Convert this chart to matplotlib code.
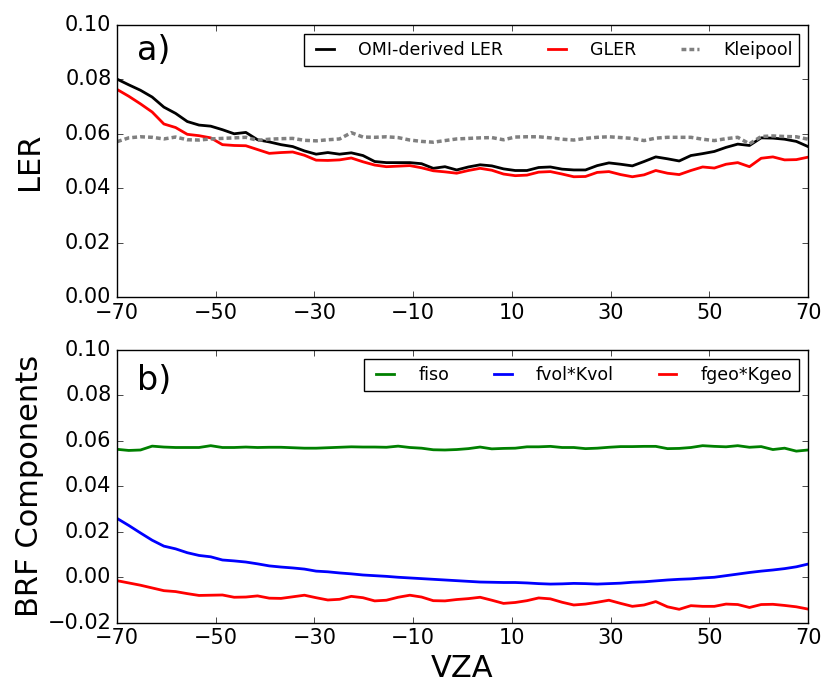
import numpy as np
import matplotlib
matplotlib.use("Agg")
import matplotlib.pyplot as plt
from matplotlib.ticker import FuncFormatter

plt.style.use("classic")

# VZA grid (60 OMI rows)
vza = np.linspace(-70, 70, 60)

# ---- panel a) ----
omi_ler = [0.0801, 0.0780, 0.0760, 0.0735, 0.0698, 0.0675, 0.0645, 0.0632, 0.0628, 0.0615,
           0.0600, 0.0605, 0.0578, 0.0570, 0.0560, 0.0553, 0.0537, 0.0525, 0.0531, 0.0525,
           0.0530, 0.0520, 0.0498, 0.0494, 0.0494, 0.0494, 0.0490, 0.0473, 0.0479, 0.0467,
           0.0478, 0.0486, 0.0482, 0.0471, 0.0465, 0.0465, 0.0476, 0.0478, 0.0470, 0.0467,
           0.0467, 0.0483, 0.0493, 0.0488, 0.0482, 0.0498, 0.0515, 0.0508, 0.0500, 0.0520,
           0.0527, 0.0535, 0.0550, 0.0562, 0.0557, 0.0585, 0.0584, 0.0580, 0.0572, 0.0553]
gler = [0.0763, 0.0738, 0.0710, 0.0680, 0.0636, 0.0623, 0.0598, 0.0593, 0.0585, 0.0560,
        0.0557, 0.0556, 0.0542, 0.0528, 0.0531, 0.0533, 0.0521, 0.0503, 0.0502, 0.0504,
        0.0511, 0.0497, 0.0485, 0.0479, 0.0481, 0.0483, 0.0475, 0.0464, 0.0460, 0.0455,
        0.0465, 0.0473, 0.0466, 0.0452, 0.0446, 0.0448, 0.0459, 0.0461, 0.0452, 0.0442,
        0.0443, 0.0458, 0.0461, 0.0450, 0.0442, 0.0449, 0.0465, 0.0455, 0.0450, 0.0465,
        0.0478, 0.0474, 0.0488, 0.0494, 0.0479, 0.0510, 0.0515, 0.0504, 0.0505, 0.0514]
kleipool = [0.0571, 0.0585, 0.0589, 0.0587, 0.0581, 0.0588, 0.0578, 0.0577, 0.0581, 0.0583,
            0.0585, 0.0587, 0.0576, 0.0580, 0.0582, 0.0583, 0.0576, 0.0574, 0.0578, 0.0581,
            0.0604, 0.0588, 0.0587, 0.0589, 0.0586, 0.0577, 0.0572, 0.0569, 0.0575, 0.0581,
            0.0583, 0.0585, 0.0586, 0.0578, 0.0588, 0.0589, 0.0589, 0.0585, 0.0580, 0.0577,
            0.0583, 0.0587, 0.0589, 0.0586, 0.0583, 0.0575, 0.0584, 0.0587, 0.0587, 0.0587,
            0.0580, 0.0575, 0.0582, 0.0587, 0.0563, 0.0590, 0.0592, 0.0590, 0.0589, 0.0580]

# ---- panel b) ----
fiso = [0.0563, 0.0558, 0.0560, 0.0577, 0.0573, 0.0571, 0.0571, 0.0571, 0.0579, 0.0571,
        0.0571, 0.0573, 0.0571, 0.0572, 0.0572, 0.0570, 0.0568, 0.0568, 0.0570, 0.0572,
        0.0574, 0.0573, 0.0573, 0.0572, 0.0577, 0.0571, 0.0568, 0.0561, 0.0560, 0.0562,
        0.0566, 0.0573, 0.0565, 0.0567, 0.0568, 0.0574, 0.0574, 0.0576, 0.0571, 0.0571,
        0.0566, 0.0568, 0.0572, 0.0575, 0.0575, 0.0576, 0.0576, 0.0566, 0.0567, 0.0571,
        0.0579, 0.0576, 0.0574, 0.0579, 0.0572, 0.0575, 0.0562, 0.0568, 0.0555, 0.0560]
fvol = [0.0259, 0.0228, 0.0195, 0.0163, 0.0137, 0.0125, 0.0108, 0.0096, 0.0090, 0.0076,
        0.0072, 0.0067, 0.0059, 0.0050, 0.0045, 0.0041, 0.0036, 0.0027, 0.0024, 0.0019,
        0.0015, 0.0010, 0.0007, 0.0004, 0.0000, -0.0003, -0.0006, -0.0009, -0.0012, -0.0015,
        -0.0018, -0.0021, -0.0022, -0.0023, -0.0023, -0.0025, -0.0028, -0.0030, -0.0029, -0.0027,
        -0.0028, -0.0030, -0.0028, -0.0026, -0.0022, -0.0020, -0.0016, -0.0012, -0.0009, -0.0007,
        -0.0003, 0.0000, 0.0007, 0.0014, 0.0021, 0.0027, 0.0032, 0.0038, 0.0046, 0.0058]
fgeo = [-0.0015, -0.0025, -0.0035, -0.0047, -0.0059, -0.0063, -0.0072, -0.0080, -0.0079, -0.0078,
        -0.0088, -0.0087, -0.0082, -0.0092, -0.0093, -0.0086, -0.0079, -0.0090, -0.0100, -0.0097,
        -0.0084, -0.0090, -0.0104, -0.0101, -0.0088, -0.0079, -0.0087, -0.0103, -0.0104, -0.0098,
        -0.0094, -0.0088, -0.0101, -0.0115, -0.0111, -0.0103, -0.0091, -0.0095, -0.0110, -0.0122,
        -0.0118, -0.0110, -0.0101, -0.0115, -0.0128, -0.0122, -0.0107, -0.0130, -0.0141, -0.0125,
        -0.0128, -0.0128, -0.0118, -0.0120, -0.0133, -0.0120, -0.0119, -0.0124, -0.0130, -0.0140]

xticks = [-70, -50, -30, -10, 10, 30, 50, 70]

fig = plt.figure(figsize=(8.23, 6.84), dpi=100, facecolor="white")
ax1 = fig.add_axes([0.1422, 0.5658, 0.8396, 0.3977])
ax2 = fig.add_axes([0.1422, 0.0896, 0.8396, 0.3987])

# 图 a
ax1.plot(vza, omi_ler, color="k", lw=2, label="OMI-derived LER")
ax1.plot(vza, gler, color="r", lw=2, label="GLER")
ax1.plot(vza, kleipool, color="gray", lw=2.5, ls="--", dashes=(3.5, 2.2), label="Kleipool")
ax1.set_xlim(-70, 70)
ax1.set_ylim(0, 0.1)
ax1.set_yticks([0.0, 0.02, 0.04, 0.06, 0.08, 0.10])
ax1.set_ylabel("LER", fontsize=22)
ax1.yaxis.set_label_coords(-0.106, 0.5)
ax1.text(-66, 0.0905, "a)", fontsize=24, va="center")
ax1.legend(loc="upper right", ncol=3, fontsize=12.5, handlelength=1.6,
           handletextpad=1.1, columnspacing=2.3, borderaxespad=0.5)

# 图 b
ax2.plot(vza, fiso, color="g", lw=2, label="fiso")
ax2.plot(vza, fvol, color="b", lw=2, label="fvol*Kvol")
ax2.plot(vza, fgeo, color="r", lw=2, label="fgeo*Kgeo")
ax2.set_xlim(-70, 70)
ax2.set_ylim(-0.02, 0.1)
ax2.set_yticks([-0.02, 0.0, 0.02, 0.04, 0.06, 0.08, 0.10])
ax2.set_ylabel("BRF Components", fontsize=22)
ax2.yaxis.set_label_coords(-0.106, 0.5)
ax2.set_xlabel("VZA", fontsize=22)
ax2.xaxis.set_label_coords(0.5, -0.115)
ax2.text(-66, 0.0865, "b)", fontsize=24, va="center")
ax2.legend(loc="upper right", ncol=3, fontsize=12.5, handlelength=1.6,
           handletextpad=1.1, columnspacing=2.3, borderaxespad=0.5)

fmt = FuncFormatter(lambda v, p: f"{v:.2f}".replace("-", "\u2212"))
for ax in (ax1, ax2):
    ax.set_xticks(xticks)
    ax.tick_params(labelsize=15)
    ax.yaxis.set_major_formatter(fmt)

fig.savefig("out.png", dpi=100, facecolor="white")
